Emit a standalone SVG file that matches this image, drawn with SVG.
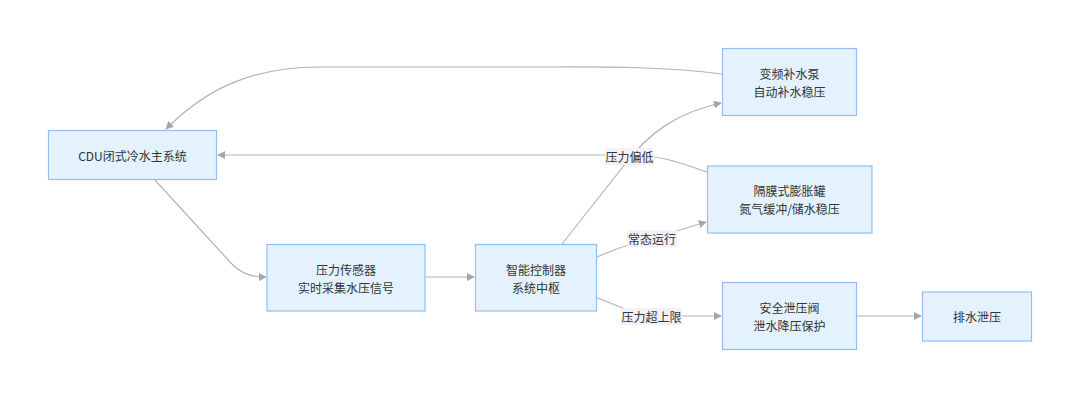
<svg xmlns="http://www.w3.org/2000/svg" width="1080" height="398" viewBox="0 0 1080 398">
<style>
.node rect{fill:#e3f2fd;stroke:#90bff0;stroke-width:1.2}
.node text,.lbl text{font-family:"Noto Sans CJK SC","Noto Sans",sans-serif;font-size:12px;fill:#333;text-anchor:middle;dominant-baseline:central}
.edge{fill:none;stroke:#b3b3b3;stroke-width:1.2;marker-end:url(#arr)}
.lbl rect{fill:#f3effb}
</style>
<defs>
<marker id="arr" viewBox="0 0 10 10" refX="9" refY="5" markerWidth="8" markerHeight="8" markerUnits="userSpaceOnUse" orient="auto">
<path d="M0,0 L10,5 L0,10 z" fill="#a6a6a6"/>
</marker>
</defs>
<rect width="1080" height="398" fill="#ffffff"/>
<g id="connectors">
<path class="edge" d="M722,74 C660,66 600,67 540,67 L320,67 C250,67 205,90 166,129"/>
<path class="edge" d="M707,172 C680,163 665,156 630,155 L218,155"/>
<path class="edge" d="M154,179 L230,262 C240,273 250,277 266,277"/>
<path class="edge" d="M425,277 L474,277"/>
<path class="edge" d="M562,244 L622,168 C650,130 680,112 721,103"/>
<path class="edge" d="M597,257 C620,247 640,240 660,236 L706,222"/>
<path class="edge" d="M597,298 C620,306 635,316 660,316 L721,316"/>
<path class="edge" d="M857,316 L921,316"/>
<g class="lbl"><rect x="605" y="148" width="49" height="17"/><text x="629.5" y="156.5">压力偏低</text></g>
<g class="lbl"><rect x="627" y="230" width="50" height="17"/><text x="652" y="238.5">常态运行</text></g>
<g class="lbl"><rect x="621" y="308" width="61" height="17"/><text x="651.5" y="316.5">压力超上限</text></g>
</g>
<g id="cdu" class="node"><rect x="48.5" y="130.5" width="168" height="49"/><text x="132.5" y="155">CDU闭式冷水主系统</text></g>
<g id="sensor" class="node"><rect x="267" y="244.5" width="158" height="66.5"/><text x="346" y="269">压力传感器</text><text x="346" y="287">实时采集水压信号</text></g>
<g id="controller" class="node"><rect x="475.5" y="244.5" width="121" height="66.5"/><text x="536" y="269">智能控制器</text><text x="536" y="287">系统中枢</text></g>
<g id="pump" class="node"><rect x="722.5" y="48.5" width="134" height="67"/><text x="789.5" y="73">变频补水泵</text><text x="789.5" y="91">自动补水稳压</text></g>
<g id="tank" class="node"><rect x="707.5" y="166" width="164.5" height="67"/><text x="789.5" y="190">隔膜式膨胀罐</text><text x="789.5" y="208">氮气缓冲/储水稳压</text></g>
<g id="valve" class="node"><rect x="722.5" y="282.5" width="134" height="67"/><text x="789.5" y="307">安全泄压阀</text><text x="789.5" y="325">泄水降压保护</text></g>
<g id="drain" class="node"><rect x="922.5" y="292" width="109" height="49"/><text x="977" y="316.5">排水泄压</text></g>
</svg>
